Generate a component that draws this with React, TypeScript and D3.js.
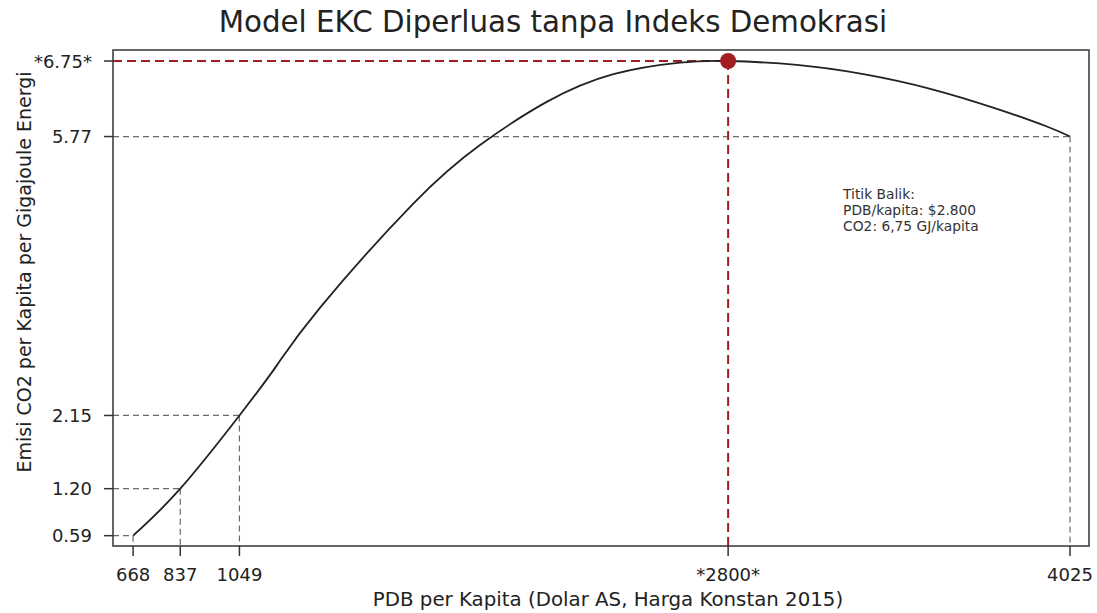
import { curveNatural, line, scaleLinear } from 'd3'

const WIDTH = 1097
const HEIGHT = 613
const MARGIN = { top: 50, right: 8, bottom: 67, left: 113 }
const INNER_WIDTH = WIDTH - MARGIN.left - MARGIN.right
const INNER_HEIGHT = HEIGHT - MARGIN.top - MARGIN.bottom

const FONT = '"DejaVu Sans", sans-serif'
const RED = '#a11d22'
const GREY = '#6a6a6a'
const INK = '#222'

const TITLE = 'Model EKC Diperluas tanpa Indeks Demokrasi'
const X_LABEL = 'PDB per Kapita (Dolar AS, Harga Konstan 2015)'
const Y_LABEL = 'Emisi CO2 per Kapita per Gigajoule Energi'

// curve
const gdp = [668, 837, 1049, 1183, 1338, 1672, 1911, 2150, 2389, 2628, 2800, 3046, 3285, 3524, 3763, 3942, 4025]
const co2 = [0.59, 1.2, 2.15, 2.8, 3.55, 4.9, 5.66, 6.22, 6.58, 6.73, 6.75, 6.7, 6.58, 6.39, 6.13, 5.9, 5.77]

// marked points (dashed guides + ticks)
const markX = [668, 837, 1049, 4025]
const markY = [0.59, 1.2, 2.15, 5.77]
const xTickLabels = ['668', '837', '1049', '4025']
const yTickLabels = ['0.59', '1.20', '2.15', '5.77']

const turnX = 2800
const turnY = 6.75
const turnXLabel = '*2800*'
const turnYLabel = '*6.75*'

const note = ['Titik Balik:', 'PDB/kapita: $2.800', 'CO2: 6,75 GJ/kapita']
const notePos = { x: 3212, y: 4.96 }

const X_DOMAIN: [number, number] = [596, 4093]
const Y_DOMAIN: [number, number] = [0.456, 6.893]

export default function App() {
  const x = scaleLinear().domain(X_DOMAIN).range([0, INNER_WIDTH])
  const y = scaleLinear().domain(Y_DOMAIN).range([INNER_HEIGHT, 0])

  const points = gdp.map((g, i) => [g, co2[i]] as [number, number])
  const path = line<[number, number]>()
    .x((d) => x(d[0]))
    .y((d) => y(d[1]))
    .curve(curveNatural)(points)

  const xTicks = [...markX.map((v, i) => ({ v, label: xTickLabels[i] })), { v: turnX, label: turnXLabel }]
  const yTicks = [...markY.map((v, i) => ({ v, label: yTickLabels[i] })), { v: turnY, label: turnYLabel }]

  return (
    <>
      <style>{'body{margin:0}'}</style>
      <svg width={WIDTH} height={HEIGHT} viewBox={`0 0 ${WIDTH} ${HEIGHT}`} style={{ display: 'block', fontFamily: FONT }}>
        <rect width={WIDTH} height={HEIGHT} fill="#fff" />
        <text x={553} y={32} textAnchor="middle" fontSize={29.3} fill={INK}>
          {TITLE}
        </text>
        <g transform={`translate(${MARGIN.left}, ${MARGIN.top})`}>
          {/* grey guides */}
          {markX.map((v, i) => (
            <g key={v} stroke={GREY} strokeWidth={1.2} strokeDasharray="6 4" fill="none">
              <line x1={0} x2={x(v)} y1={y(markY[i])} y2={y(markY[i])} />
              <line x1={x(v)} x2={x(v)} y1={y(markY[i])} y2={INNER_HEIGHT} />
            </g>
          ))}
          {/* red guides to the turning point */}
          <g stroke={RED} strokeWidth={2} strokeDasharray="9 5" fill="none">
            <line x1={0} x2={x(turnX)} y1={y(turnY)} y2={y(turnY)} />
            <line x1={x(turnX)} x2={x(turnX)} y1={y(turnY)} y2={INNER_HEIGHT} />
          </g>
          <path d={path ?? undefined} fill="none" stroke={INK} strokeWidth={1.8} />
          <circle cx={x(turnX)} cy={y(turnY)} r={8} fill={RED} />
          <rect x={0} y={0} width={INNER_WIDTH} height={INNER_HEIGHT} fill="none" stroke="#333" strokeWidth={1.5} />

          {xTicks.map((t) => (
            <g key={t.label} transform={`translate(${x(t.v)}, ${INNER_HEIGHT})`}>
              <line y1={0} y2={10} stroke="#333" strokeWidth={1.5} />
              <text y={35} textAnchor="middle" fontSize={18} fill={INK}>
                {t.label}
              </text>
            </g>
          ))}
          {yTicks.map((t) => (
            <g key={t.label} transform={`translate(0, ${y(t.v)})`}>
              <line x1={0} x2={-9} stroke="#333" strokeWidth={1.5} />
              <text x={-21} dy="0.36em" textAnchor="end" fontSize={18} fill={INK}>
                {t.label}
              </text>
            </g>
          ))}

          <text x={x(notePos.x)} y={y(notePos.y)} fontSize={13.8} fill="#333">
            {note.map((s, i) => (
              <tspan key={s} x={x(notePos.x)} dy={i === 0 ? 0 : 15.8}>
                {s}
              </tspan>
            ))}
          </text>
        </g>
        <text x={608} y={606} textAnchor="middle" fontSize={19.8} fill={INK}>
          {X_LABEL}
        </text>
        <text transform="translate(31, 272) rotate(-90)" textAnchor="middle" fontSize={19} fill={INK}>
          {Y_LABEL}
        </text>
      </svg>
    </>
  )
}
